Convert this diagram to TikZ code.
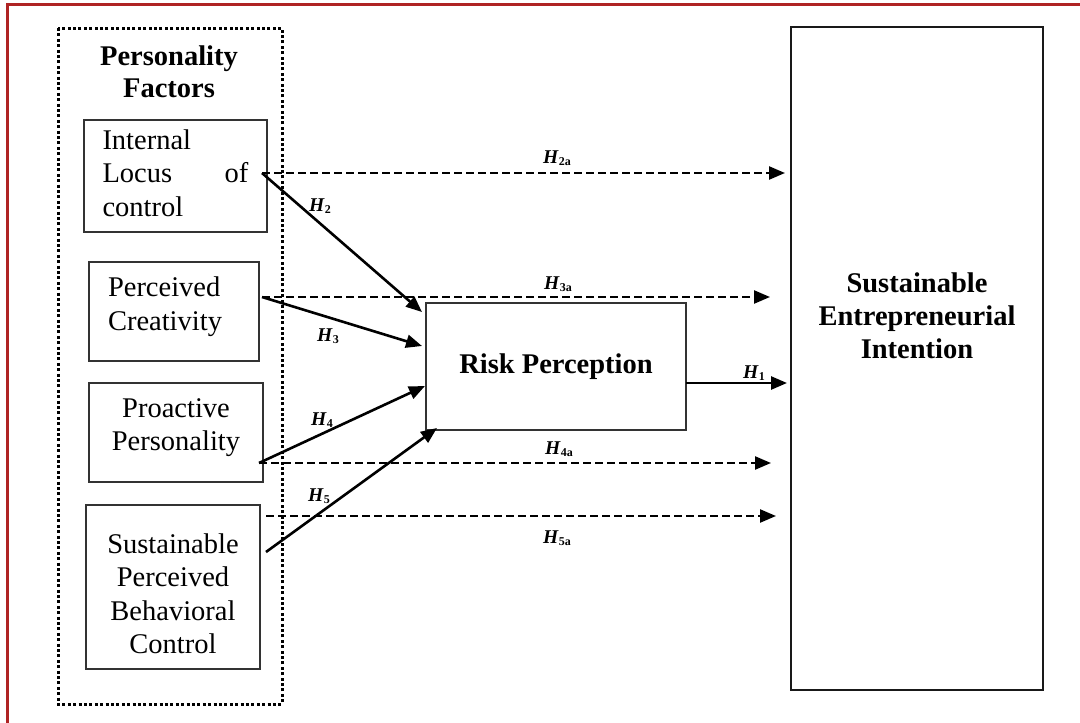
\documentclass[tikz,border=0pt]{standalone}
\usepackage{fontspec}
\setmainfont{Liberation Serif}
\usetikzlibrary{arrows.meta,positioning}

\definecolor{framered}{RGB}{175,35,35}
\newcommand{\hyp}[1]{\textbf{\textit{H}}\raisebox{-2.5pt}{\fontsize{12}{12}\selectfont\textbf{#1}}}
\newcommand{\lift}[1]{\rule[-#1]{0pt}{#1}}

\tikzset{
  factor/.style={draw=black!80, line width=1.7pt, inner sep=0pt,
    font=\fontsize{28.5}{33.5}\selectfont},
  construct/.style={factor, font=\bfseries\fontsize{28.5}{33}\selectfont},
  effect/.style={-{Triangle[length=16pt,width=13pt]}, line width=2.6pt},
  direct/.style={effect, line width=2.4pt, dash pattern=on 8pt off 4pt},
  hlabel/.style={font=\fontsize{19.5}{20}\selectfont, inner sep=0pt, anchor=base west}
}

\begin{document}
\begin{tikzpicture}[x=1pt,y=-1pt]
\useasboundingbox (0,0) rectangle (1080,723);
\draw[framered, line width=3pt] (7,723) -- (7,4) -- (1080,4);

% Personality factors
\draw[line width=3pt, dash pattern=on 3pt off 2.4pt] (58,28) rectangle (282,704);
\node[font=\bfseries\fontsize{28.5}{32}\selectfont, align=center] (pf) at (169,72) {Personality\\Factors};

\node[factor, minimum width=183, minimum height=112, text width=146, align=left] (ilc) at (175.5,176)
  {Internal\\Locus\hfill of\\control\lift{6.5pt}};
\node[factor, minimum width=170, minimum height=99, text width=132, align=left] (pc) at (174,311.5)
  {Perceived\\Creativity\lift{15.5pt}};
\node[factor, minimum width=174, minimum height=99, align=center] (pp) at (176,432.5)
  {Proactive\\Personality\lift{15.5pt}};
\node[factor, minimum width=174, minimum height=164, align=center] (spbc) at (173,587)
  {\rule{0pt}{33pt}Sustainable\\Perceived\\Behavioral\\Control};

% Mediator and outcome
\node[construct, minimum width=260, minimum height=127] (rp) at (556,366.5) {Risk Perception};
\node[construct, draw=black!90, line width=2.6pt, minimum width=252, minimum height=663, align=center]
  (sei) at (917,358.5) {Sustainable\\Entrepreneurial\\Intention\lift{85pt}};

% Ends of the paths
\coordinate (ilc-out) at (262,173);
\coordinate (pc-out) at (262,297);
\coordinate (pp-out) at (259,463);
\coordinate (spbc-out) at (266,552);
\coordinate (spbc-dir) at (266,516);
\coordinate (rp-in2) at (422,312);
\coordinate (rp-in3) at (422,346);
\coordinate (rp-in4) at (425,386);
\coordinate (rp-in5) at (437,428);
\coordinate (rp-out) at (686,383);
\coordinate (sei-in1) at (787,383);
\coordinate (sei-in2) at (785,173);
\coordinate (sei-in3) at (770,297);
\coordinate (sei-in4) at (771,463);
\coordinate (sei-in5) at (776,516);

% Direct effects
\draw[direct] (ilc-out) -- (sei-in2);
\draw[direct] (pc-out) -- (sei-in3);
\draw[direct] (pp-out) -- (sei-in4);
\draw[direct] (spbc-dir) -- (sei-in5);

% Effects on risk perception
\draw[effect] (ilc-out) -- (rp-in2);
\draw[effect] (pc-out) -- (rp-in3);
\draw[effect] (pp-out) -- (rp-in4);
\draw[effect] (spbc-out) -- (rp-in5);
\draw[effect] (rp-out) -- (sei-in1);

\node[hlabel] (h2a) at (543,163) {\hyp{2a}};
\node[hlabel] (h3a) at (544,289) {\hyp{3a}};
\node[hlabel] (h4a) at (545,454) {\hyp{4a}};
\node[hlabel] (h5a) at (543,543) {\hyp{5a}};
\node[hlabel] (h2) at (309,211) {\hyp{2}};
\node[hlabel] (h3) at (317,341) {\hyp{3}};
\node[hlabel] (h4) at (311,425) {\hyp{4}};
\node[hlabel] (h5) at (308,501) {\hyp{5}};
\node[hlabel] (h1) at (743,378) {\hyp{1}};
\end{tikzpicture}
\end{document}
